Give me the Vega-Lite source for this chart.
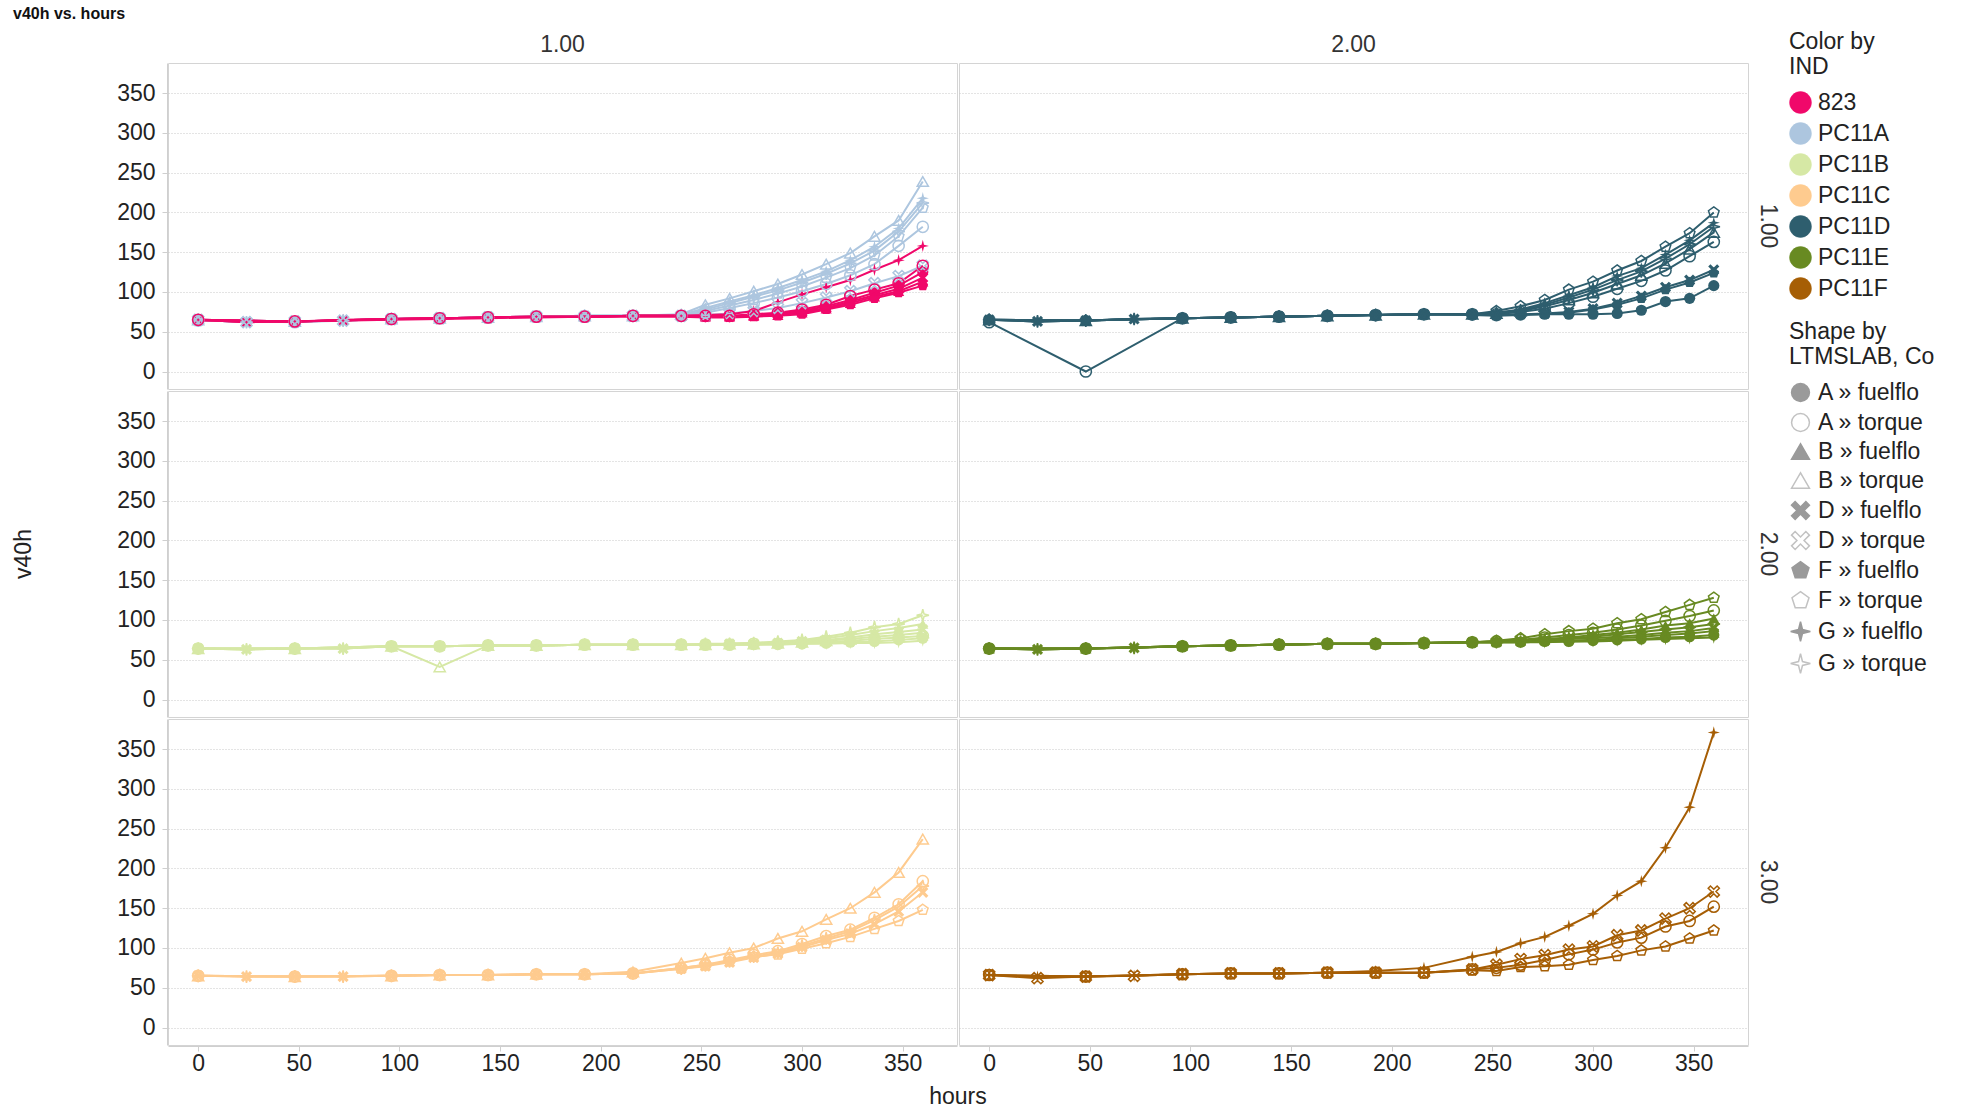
{
"$schema":"https://vega.github.io/schema/vega-lite/v6.json",
"padding":{"left":13,"top":6,"right":5,"bottom":2},
"background":"white",
"title":{"text":"v40h vs. hours","anchor":"start","fontSize":16,"fontWeight":"bold","color":"#111","frame":"bounds","offset":9},
"datasets":{"pan":[{"i":"823","r":"1.00","c":"1.00"},{"i":"PC11A","r":"1.00","c":"1.00"},{"i":"PC11D","r":"1.00","c":"2.00"},{"i":"PC11B","r":"2.00","c":"1.00"},{"i":"PC11E","r":"2.00","c":"2.00"},{"i":"PC11C","r":"3.00","c":"1.00"},{"i":"PC11F","r":"3.00","c":"2.00"}]},
"data":{"values":[
{"i":"PC11A","s":"Bt","h":0,"v":65},{"i":"PC11A","s":"Bt","h":48,"v":63},{"i":"PC11A","s":"Bt","h":96,"v":66},{"i":"PC11A","s":"Bt","h":120,"v":67},{"i":"PC11A","s":"Bt","h":144,"v":68},{"i":"PC11A","s":"Bt","h":168,"v":69},{"i":"PC11A","s":"Bt","h":192,"v":70},{"i":"PC11A","s":"Bt","h":216,"v":70},{"i":"PC11A","s":"Bt","h":240,"v":72},{"i":"PC11A","s":"Bt","h":252,"v":84},{"i":"PC11A","s":"Bt","h":264,"v":92},{"i":"PC11A","s":"Bt","h":276,"v":101},{"i":"PC11A","s":"Bt","h":288,"v":110},{"i":"PC11A","s":"Bt","h":300,"v":122},{"i":"PC11A","s":"Bt","h":312,"v":135},{"i":"PC11A","s":"Bt","h":324,"v":149},{"i":"PC11A","s":"Bt","h":336,"v":170},{"i":"PC11A","s":"Bt","h":348,"v":190},{"i":"PC11A","s":"Bt","h":360,"v":239},
{"i":"PC11A","s":"Gf","h":0,"v":65},{"i":"PC11A","s":"Gf","h":24,"v":62},{"i":"PC11A","s":"Gf","h":48,"v":63},{"i":"PC11A","s":"Gf","h":72,"v":64},{"i":"PC11A","s":"Gf","h":96,"v":66},{"i":"PC11A","s":"Gf","h":120,"v":67},{"i":"PC11A","s":"Gf","h":144,"v":68},{"i":"PC11A","s":"Gf","h":168,"v":69},{"i":"PC11A","s":"Gf","h":192,"v":70},{"i":"PC11A","s":"Gf","h":216,"v":70},{"i":"PC11A","s":"Gf","h":240,"v":71},{"i":"PC11A","s":"Gf","h":252,"v":80},{"i":"PC11A","s":"Gf","h":264,"v":88},{"i":"PC11A","s":"Gf","h":276,"v":96},{"i":"PC11A","s":"Gf","h":288,"v":105},{"i":"PC11A","s":"Gf","h":300,"v":115},{"i":"PC11A","s":"Gf","h":312,"v":126},{"i":"PC11A","s":"Gf","h":324,"v":140},{"i":"PC11A","s":"Gf","h":336,"v":157},{"i":"PC11A","s":"Gf","h":348,"v":180},{"i":"PC11A","s":"Gf","h":360,"v":218},
{"i":"PC11A","s":"Gt","h":0,"v":65},{"i":"PC11A","s":"Gt","h":24,"v":62},{"i":"PC11A","s":"Gt","h":48,"v":63},{"i":"PC11A","s":"Gt","h":72,"v":64},{"i":"PC11A","s":"Gt","h":96,"v":66},{"i":"PC11A","s":"Gt","h":120,"v":67},{"i":"PC11A","s":"Gt","h":144,"v":68},{"i":"PC11A","s":"Gt","h":168,"v":69},{"i":"PC11A","s":"Gt","h":192,"v":70},{"i":"PC11A","s":"Gt","h":216,"v":70},{"i":"PC11A","s":"Gt","h":240,"v":70},{"i":"PC11A","s":"Gt","h":252,"v":78},{"i":"PC11A","s":"Gt","h":264,"v":86},{"i":"PC11A","s":"Gt","h":276,"v":94},{"i":"PC11A","s":"Gt","h":288,"v":102},{"i":"PC11A","s":"Gt","h":300,"v":112},{"i":"PC11A","s":"Gt","h":312,"v":123},{"i":"PC11A","s":"Gt","h":324,"v":136},{"i":"PC11A","s":"Gt","h":336,"v":152},{"i":"PC11A","s":"Gt","h":348,"v":176},{"i":"PC11A","s":"Gt","h":360,"v":212},
{"i":"PC11A","s":"Ft","h":0,"v":65},{"i":"PC11A","s":"Ft","h":48,"v":63},{"i":"PC11A","s":"Ft","h":96,"v":66},{"i":"PC11A","s":"Ft","h":120,"v":67},{"i":"PC11A","s":"Ft","h":144,"v":68},{"i":"PC11A","s":"Ft","h":168,"v":69},{"i":"PC11A","s":"Ft","h":192,"v":70},{"i":"PC11A","s":"Ft","h":216,"v":70},{"i":"PC11A","s":"Ft","h":240,"v":70},{"i":"PC11A","s":"Ft","h":252,"v":76},{"i":"PC11A","s":"Ft","h":264,"v":83},{"i":"PC11A","s":"Ft","h":276,"v":90},{"i":"PC11A","s":"Ft","h":288,"v":98},{"i":"PC11A","s":"Ft","h":300,"v":107},{"i":"PC11A","s":"Ft","h":312,"v":118},{"i":"PC11A","s":"Ft","h":324,"v":130},{"i":"PC11A","s":"Ft","h":336,"v":146},{"i":"PC11A","s":"Ft","h":348,"v":170},{"i":"PC11A","s":"Ft","h":360,"v":206},
{"i":"PC11A","s":"At","h":0,"v":64},{"i":"PC11A","s":"At","h":48,"v":62},{"i":"PC11A","s":"At","h":96,"v":66},{"i":"PC11A","s":"At","h":120,"v":67},{"i":"PC11A","s":"At","h":144,"v":68},{"i":"PC11A","s":"At","h":168,"v":69},{"i":"PC11A","s":"At","h":192,"v":69},{"i":"PC11A","s":"At","h":216,"v":70},{"i":"PC11A","s":"At","h":240,"v":70},{"i":"PC11A","s":"At","h":252,"v":74},{"i":"PC11A","s":"At","h":264,"v":80},{"i":"PC11A","s":"At","h":276,"v":86},{"i":"PC11A","s":"At","h":288,"v":93},{"i":"PC11A","s":"At","h":300,"v":101},{"i":"PC11A","s":"At","h":312,"v":110},{"i":"PC11A","s":"At","h":324,"v":121},{"i":"PC11A","s":"At","h":336,"v":135},{"i":"PC11A","s":"At","h":348,"v":158},{"i":"PC11A","s":"At","h":360,"v":182},
{"i":"PC11A","s":"Dt","h":0,"v":65},{"i":"PC11A","s":"Dt","h":24,"v":62},{"i":"PC11A","s":"Dt","h":48,"v":63},{"i":"PC11A","s":"Dt","h":72,"v":64},{"i":"PC11A","s":"Dt","h":96,"v":66},{"i":"PC11A","s":"Dt","h":120,"v":67},{"i":"PC11A","s":"Dt","h":144,"v":68},{"i":"PC11A","s":"Dt","h":168,"v":69},{"i":"PC11A","s":"Dt","h":192,"v":69},{"i":"PC11A","s":"Dt","h":216,"v":70},{"i":"PC11A","s":"Dt","h":240,"v":70},{"i":"PC11A","s":"Dt","h":252,"v":71},{"i":"PC11A","s":"Dt","h":264,"v":73},{"i":"PC11A","s":"Dt","h":276,"v":76},{"i":"PC11A","s":"Dt","h":288,"v":80},{"i":"PC11A","s":"Dt","h":300,"v":86},{"i":"PC11A","s":"Dt","h":312,"v":93},{"i":"PC11A","s":"Dt","h":324,"v":101},{"i":"PC11A","s":"Dt","h":336,"v":111},{"i":"PC11A","s":"Dt","h":348,"v":120},{"i":"PC11A","s":"Dt","h":360,"v":133},
{"i":"823","s":"Gf","h":0,"v":65},{"i":"823","s":"Gf","h":24,"v":62},{"i":"823","s":"Gf","h":48,"v":63},{"i":"823","s":"Gf","h":72,"v":65},{"i":"823","s":"Gf","h":96,"v":66},{"i":"823","s":"Gf","h":120,"v":67},{"i":"823","s":"Gf","h":144,"v":68},{"i":"823","s":"Gf","h":168,"v":69},{"i":"823","s":"Gf","h":192,"v":69},{"i":"823","s":"Gf","h":216,"v":70},{"i":"823","s":"Gf","h":240,"v":70},{"i":"823","s":"Gf","h":252,"v":71},{"i":"823","s":"Gf","h":264,"v":72},{"i":"823","s":"Gf","h":276,"v":76},{"i":"823","s":"Gf","h":288,"v":87},{"i":"823","s":"Gf","h":300,"v":97},{"i":"823","s":"Gf","h":312,"v":106},{"i":"823","s":"Gf","h":324,"v":115},{"i":"823","s":"Gf","h":336,"v":128},{"i":"823","s":"Gf","h":348,"v":140},{"i":"823","s":"Gf","h":360,"v":158},
{"i":"823","s":"At","h":0,"v":65},{"i":"823","s":"At","h":48,"v":63},{"i":"823","s":"At","h":96,"v":66},{"i":"823","s":"At","h":120,"v":67},{"i":"823","s":"At","h":144,"v":68},{"i":"823","s":"At","h":168,"v":69},{"i":"823","s":"At","h":192,"v":69},{"i":"823","s":"At","h":216,"v":70},{"i":"823","s":"At","h":240,"v":70},{"i":"823","s":"At","h":252,"v":70},{"i":"823","s":"At","h":264,"v":70},{"i":"823","s":"At","h":276,"v":72},{"i":"823","s":"At","h":288,"v":74},{"i":"823","s":"At","h":300,"v":78},{"i":"823","s":"At","h":312,"v":84},{"i":"823","s":"At","h":324,"v":95},{"i":"823","s":"At","h":336,"v":103},{"i":"823","s":"At","h":348,"v":111},{"i":"823","s":"At","h":360,"v":133},
{"i":"823","s":"Af","h":0,"v":65},{"i":"823","s":"Af","h":48,"v":63},{"i":"823","s":"Af","h":96,"v":66},{"i":"823","s":"Af","h":120,"v":67},{"i":"823","s":"Af","h":144,"v":68},{"i":"823","s":"Af","h":168,"v":69},{"i":"823","s":"Af","h":192,"v":69},{"i":"823","s":"Af","h":216,"v":70},{"i":"823","s":"Af","h":240,"v":70},{"i":"823","s":"Af","h":252,"v":69},{"i":"823","s":"Af","h":264,"v":69},{"i":"823","s":"Af","h":276,"v":71},{"i":"823","s":"Af","h":288,"v":73},{"i":"823","s":"Af","h":300,"v":76},{"i":"823","s":"Af","h":312,"v":82},{"i":"823","s":"Af","h":324,"v":90},{"i":"823","s":"Af","h":336,"v":99},{"i":"823","s":"Af","h":348,"v":108},{"i":"823","s":"Af","h":360,"v":125},
{"i":"823","s":"Df","h":0,"v":65},{"i":"823","s":"Df","h":24,"v":62},{"i":"823","s":"Df","h":48,"v":63},{"i":"823","s":"Df","h":72,"v":64},{"i":"823","s":"Df","h":96,"v":66},{"i":"823","s":"Df","h":120,"v":67},{"i":"823","s":"Df","h":144,"v":68},{"i":"823","s":"Df","h":168,"v":69},{"i":"823","s":"Df","h":192,"v":69},{"i":"823","s":"Df","h":216,"v":70},{"i":"823","s":"Df","h":240,"v":70},{"i":"823","s":"Df","h":252,"v":69},{"i":"823","s":"Df","h":264,"v":69},{"i":"823","s":"Df","h":276,"v":70},{"i":"823","s":"Df","h":288,"v":72},{"i":"823","s":"Df","h":300,"v":75},{"i":"823","s":"Df","h":312,"v":80},{"i":"823","s":"Df","h":324,"v":88},{"i":"823","s":"Df","h":336,"v":96},{"i":"823","s":"Df","h":348,"v":104},{"i":"823","s":"Df","h":360,"v":118},
{"i":"823","s":"Bf","h":0,"v":65},{"i":"823","s":"Bf","h":48,"v":63},{"i":"823","s":"Bf","h":96,"v":66},{"i":"823","s":"Bf","h":120,"v":67},{"i":"823","s":"Bf","h":144,"v":68},{"i":"823","s":"Bf","h":168,"v":69},{"i":"823","s":"Bf","h":192,"v":69},{"i":"823","s":"Bf","h":216,"v":70},{"i":"823","s":"Bf","h":240,"v":70},{"i":"823","s":"Bf","h":252,"v":69},{"i":"823","s":"Bf","h":264,"v":69},{"i":"823","s":"Bf","h":276,"v":70},{"i":"823","s":"Bf","h":288,"v":71},{"i":"823","s":"Bf","h":300,"v":74},{"i":"823","s":"Bf","h":312,"v":79},{"i":"823","s":"Bf","h":324,"v":86},{"i":"823","s":"Bf","h":336,"v":94},{"i":"823","s":"Bf","h":348,"v":101},{"i":"823","s":"Bf","h":360,"v":113},
{"i":"823","s":"Ff","h":0,"v":64},{"i":"823","s":"Ff","h":48,"v":63},{"i":"823","s":"Ff","h":96,"v":65},{"i":"823","s":"Ff","h":120,"v":66},{"i":"823","s":"Ff","h":144,"v":67},{"i":"823","s":"Ff","h":168,"v":68},{"i":"823","s":"Ff","h":192,"v":69},{"i":"823","s":"Ff","h":216,"v":69},{"i":"823","s":"Ff","h":240,"v":69},{"i":"823","s":"Ff","h":252,"v":68},{"i":"823","s":"Ff","h":264,"v":68},{"i":"823","s":"Ff","h":276,"v":69},{"i":"823","s":"Ff","h":288,"v":70},{"i":"823","s":"Ff","h":300,"v":72},{"i":"823","s":"Ff","h":312,"v":78},{"i":"823","s":"Ff","h":324,"v":84},{"i":"823","s":"Ff","h":336,"v":92},{"i":"823","s":"Ff","h":348,"v":99},{"i":"823","s":"Ff","h":360,"v":108},
{"i":"PC11D","s":"Ft","h":0,"v":65},{"i":"PC11D","s":"Ft","h":48,"v":64},{"i":"PC11D","s":"Ft","h":96,"v":67},{"i":"PC11D","s":"Ft","h":120,"v":68},{"i":"PC11D","s":"Ft","h":144,"v":69},{"i":"PC11D","s":"Ft","h":168,"v":70},{"i":"PC11D","s":"Ft","h":192,"v":71},{"i":"PC11D","s":"Ft","h":216,"v":72},{"i":"PC11D","s":"Ft","h":240,"v":72},{"i":"PC11D","s":"Ft","h":252,"v":76},{"i":"PC11D","s":"Ft","h":264,"v":82},{"i":"PC11D","s":"Ft","h":276,"v":90},{"i":"PC11D","s":"Ft","h":288,"v":103},{"i":"PC11D","s":"Ft","h":300,"v":113},{"i":"PC11D","s":"Ft","h":312,"v":127},{"i":"PC11D","s":"Ft","h":324,"v":139},{"i":"PC11D","s":"Ft","h":336,"v":157},{"i":"PC11D","s":"Ft","h":348,"v":174},{"i":"PC11D","s":"Ft","h":360,"v":200},
{"i":"PC11D","s":"Gf","h":0,"v":65},{"i":"PC11D","s":"Gf","h":24,"v":63},{"i":"PC11D","s":"Gf","h":48,"v":64},{"i":"PC11D","s":"Gf","h":72,"v":66},{"i":"PC11D","s":"Gf","h":96,"v":67},{"i":"PC11D","s":"Gf","h":120,"v":68},{"i":"PC11D","s":"Gf","h":144,"v":69},{"i":"PC11D","s":"Gf","h":168,"v":70},{"i":"PC11D","s":"Gf","h":192,"v":71},{"i":"PC11D","s":"Gf","h":216,"v":72},{"i":"PC11D","s":"Gf","h":240,"v":72},{"i":"PC11D","s":"Gf","h":252,"v":74},{"i":"PC11D","s":"Gf","h":264,"v":78},{"i":"PC11D","s":"Gf","h":276,"v":86},{"i":"PC11D","s":"Gf","h":288,"v":96},{"i":"PC11D","s":"Gf","h":300,"v":106},{"i":"PC11D","s":"Gf","h":312,"v":120},{"i":"PC11D","s":"Gf","h":324,"v":130},{"i":"PC11D","s":"Gf","h":336,"v":147},{"i":"PC11D","s":"Gf","h":348,"v":165},{"i":"PC11D","s":"Gf","h":360,"v":187},
{"i":"PC11D","s":"Gt","h":0,"v":65},{"i":"PC11D","s":"Gt","h":24,"v":63},{"i":"PC11D","s":"Gt","h":48,"v":64},{"i":"PC11D","s":"Gt","h":72,"v":66},{"i":"PC11D","s":"Gt","h":96,"v":67},{"i":"PC11D","s":"Gt","h":120,"v":68},{"i":"PC11D","s":"Gt","h":144,"v":69},{"i":"PC11D","s":"Gt","h":168,"v":70},{"i":"PC11D","s":"Gt","h":192,"v":71},{"i":"PC11D","s":"Gt","h":216,"v":72},{"i":"PC11D","s":"Gt","h":240,"v":72},{"i":"PC11D","s":"Gt","h":252,"v":74},{"i":"PC11D","s":"Gt","h":264,"v":77},{"i":"PC11D","s":"Gt","h":276,"v":84},{"i":"PC11D","s":"Gt","h":288,"v":93},{"i":"PC11D","s":"Gt","h":300,"v":103},{"i":"PC11D","s":"Gt","h":312,"v":115},{"i":"PC11D","s":"Gt","h":324,"v":126},{"i":"PC11D","s":"Gt","h":336,"v":142},{"i":"PC11D","s":"Gt","h":348,"v":160},{"i":"PC11D","s":"Gt","h":360,"v":182},
{"i":"PC11D","s":"Bt","h":0,"v":65},{"i":"PC11D","s":"Bt","h":48,"v":64},{"i":"PC11D","s":"Bt","h":96,"v":67},{"i":"PC11D","s":"Bt","h":120,"v":68},{"i":"PC11D","s":"Bt","h":144,"v":69},{"i":"PC11D","s":"Bt","h":168,"v":70},{"i":"PC11D","s":"Bt","h":192,"v":71},{"i":"PC11D","s":"Bt","h":216,"v":72},{"i":"PC11D","s":"Bt","h":240,"v":72},{"i":"PC11D","s":"Bt","h":252,"v":73},{"i":"PC11D","s":"Bt","h":264,"v":76},{"i":"PC11D","s":"Bt","h":276,"v":82},{"i":"PC11D","s":"Bt","h":288,"v":90},{"i":"PC11D","s":"Bt","h":300,"v":99},{"i":"PC11D","s":"Bt","h":312,"v":110},{"i":"PC11D","s":"Bt","h":324,"v":121},{"i":"PC11D","s":"Bt","h":336,"v":136},{"i":"PC11D","s":"Bt","h":348,"v":154},{"i":"PC11D","s":"Bt","h":360,"v":175},
{"i":"PC11D","s":"At","h":0,"v":62},{"i":"PC11D","s":"At","h":48,"v":0},{"i":"PC11D","s":"At","h":96,"v":67},{"i":"PC11D","s":"At","h":120,"v":68},{"i":"PC11D","s":"At","h":144,"v":69},{"i":"PC11D","s":"At","h":168,"v":70},{"i":"PC11D","s":"At","h":192,"v":71},{"i":"PC11D","s":"At","h":216,"v":72},{"i":"PC11D","s":"At","h":240,"v":72},{"i":"PC11D","s":"At","h":252,"v":72},{"i":"PC11D","s":"At","h":264,"v":75},{"i":"PC11D","s":"At","h":276,"v":79},{"i":"PC11D","s":"At","h":288,"v":86},{"i":"PC11D","s":"At","h":300,"v":94},{"i":"PC11D","s":"At","h":312,"v":104},{"i":"PC11D","s":"At","h":324,"v":114},{"i":"PC11D","s":"At","h":336,"v":127},{"i":"PC11D","s":"At","h":348,"v":145},{"i":"PC11D","s":"At","h":360,"v":163},
{"i":"PC11D","s":"Df","h":0,"v":65},{"i":"PC11D","s":"Df","h":24,"v":63},{"i":"PC11D","s":"Df","h":48,"v":64},{"i":"PC11D","s":"Df","h":72,"v":66},{"i":"PC11D","s":"Df","h":96,"v":67},{"i":"PC11D","s":"Df","h":120,"v":68},{"i":"PC11D","s":"Df","h":144,"v":69},{"i":"PC11D","s":"Df","h":168,"v":70},{"i":"PC11D","s":"Df","h":192,"v":71},{"i":"PC11D","s":"Df","h":216,"v":72},{"i":"PC11D","s":"Df","h":240,"v":72},{"i":"PC11D","s":"Df","h":252,"v":71},{"i":"PC11D","s":"Df","h":264,"v":72},{"i":"PC11D","s":"Df","h":276,"v":73},{"i":"PC11D","s":"Df","h":288,"v":75},{"i":"PC11D","s":"Df","h":300,"v":79},{"i":"PC11D","s":"Df","h":312,"v":86},{"i":"PC11D","s":"Df","h":324,"v":95},{"i":"PC11D","s":"Df","h":336,"v":106},{"i":"PC11D","s":"Df","h":348,"v":115},{"i":"PC11D","s":"Df","h":360,"v":128},
{"i":"PC11D","s":"Ff","h":0,"v":65},{"i":"PC11D","s":"Ff","h":48,"v":64},{"i":"PC11D","s":"Ff","h":96,"v":67},{"i":"PC11D","s":"Ff","h":120,"v":68},{"i":"PC11D","s":"Ff","h":144,"v":69},{"i":"PC11D","s":"Ff","h":168,"v":70},{"i":"PC11D","s":"Ff","h":192,"v":71},{"i":"PC11D","s":"Ff","h":216,"v":72},{"i":"PC11D","s":"Ff","h":240,"v":72},{"i":"PC11D","s":"Ff","h":252,"v":71},{"i":"PC11D","s":"Ff","h":264,"v":72},{"i":"PC11D","s":"Ff","h":276,"v":72},{"i":"PC11D","s":"Ff","h":288,"v":74},{"i":"PC11D","s":"Ff","h":300,"v":78},{"i":"PC11D","s":"Ff","h":312,"v":84},{"i":"PC11D","s":"Ff","h":324,"v":92},{"i":"PC11D","s":"Ff","h":336,"v":103},{"i":"PC11D","s":"Ff","h":348,"v":112},{"i":"PC11D","s":"Ff","h":360,"v":124},
{"i":"PC11D","s":"Af","h":0,"v":65},{"i":"PC11D","s":"Af","h":48,"v":64},{"i":"PC11D","s":"Af","h":96,"v":67},{"i":"PC11D","s":"Af","h":120,"v":68},{"i":"PC11D","s":"Af","h":144,"v":69},{"i":"PC11D","s":"Af","h":168,"v":70},{"i":"PC11D","s":"Af","h":192,"v":71},{"i":"PC11D","s":"Af","h":216,"v":72},{"i":"PC11D","s":"Af","h":240,"v":71},{"i":"PC11D","s":"Af","h":252,"v":70},{"i":"PC11D","s":"Af","h":264,"v":71},{"i":"PC11D","s":"Af","h":276,"v":72},{"i":"PC11D","s":"Af","h":288,"v":72},{"i":"PC11D","s":"Af","h":300,"v":72},{"i":"PC11D","s":"Af","h":312,"v":73},{"i":"PC11D","s":"Af","h":324,"v":77},{"i":"PC11D","s":"Af","h":336,"v":88},{"i":"PC11D","s":"Af","h":348,"v":92},{"i":"PC11D","s":"Af","h":360,"v":108},
{"i":"PC11B","s":"Gt","h":0,"v":64},{"i":"PC11B","s":"Gt","h":24,"v":63},{"i":"PC11B","s":"Gt","h":48,"v":64},{"i":"PC11B","s":"Gt","h":72,"v":64},{"i":"PC11B","s":"Gt","h":96,"v":67},{"i":"PC11B","s":"Gt","h":120,"v":67},{"i":"PC11B","s":"Gt","h":144,"v":68},{"i":"PC11B","s":"Gt","h":168,"v":68},{"i":"PC11B","s":"Gt","h":192,"v":69},{"i":"PC11B","s":"Gt","h":216,"v":69},{"i":"PC11B","s":"Gt","h":240,"v":69},{"i":"PC11B","s":"Gt","h":252,"v":70},{"i":"PC11B","s":"Gt","h":264,"v":70},{"i":"PC11B","s":"Gt","h":276,"v":71},{"i":"PC11B","s":"Gt","h":288,"v":73},{"i":"PC11B","s":"Gt","h":300,"v":75},{"i":"PC11B","s":"Gt","h":312,"v":79},{"i":"PC11B","s":"Gt","h":324,"v":84},{"i":"PC11B","s":"Gt","h":336,"v":91},{"i":"PC11B","s":"Gt","h":348,"v":95},{"i":"PC11B","s":"Gt","h":360,"v":106},
{"i":"PC11B","s":"Bf","h":0,"v":64},{"i":"PC11B","s":"Bf","h":48,"v":64},{"i":"PC11B","s":"Bf","h":96,"v":67},{"i":"PC11B","s":"Bf","h":120,"v":67},{"i":"PC11B","s":"Bf","h":144,"v":68},{"i":"PC11B","s":"Bf","h":168,"v":68},{"i":"PC11B","s":"Bf","h":192,"v":69},{"i":"PC11B","s":"Bf","h":216,"v":69},{"i":"PC11B","s":"Bf","h":240,"v":69},{"i":"PC11B","s":"Bf","h":252,"v":69},{"i":"PC11B","s":"Bf","h":264,"v":70},{"i":"PC11B","s":"Bf","h":276,"v":71},{"i":"PC11B","s":"Bf","h":288,"v":72},{"i":"PC11B","s":"Bf","h":300,"v":74},{"i":"PC11B","s":"Bf","h":312,"v":77},{"i":"PC11B","s":"Bf","h":324,"v":81},{"i":"PC11B","s":"Bf","h":336,"v":86},{"i":"PC11B","s":"Bf","h":348,"v":90},{"i":"PC11B","s":"Bf","h":360,"v":95},
{"i":"PC11B","s":"Df","h":0,"v":64},{"i":"PC11B","s":"Df","h":24,"v":63},{"i":"PC11B","s":"Df","h":48,"v":64},{"i":"PC11B","s":"Df","h":72,"v":64},{"i":"PC11B","s":"Df","h":96,"v":67},{"i":"PC11B","s":"Df","h":120,"v":67},{"i":"PC11B","s":"Df","h":144,"v":68},{"i":"PC11B","s":"Df","h":168,"v":68},{"i":"PC11B","s":"Df","h":192,"v":69},{"i":"PC11B","s":"Df","h":216,"v":69},{"i":"PC11B","s":"Df","h":240,"v":69},{"i":"PC11B","s":"Df","h":252,"v":69},{"i":"PC11B","s":"Df","h":264,"v":70},{"i":"PC11B","s":"Df","h":276,"v":70},{"i":"PC11B","s":"Df","h":288,"v":71},{"i":"PC11B","s":"Df","h":300,"v":73},{"i":"PC11B","s":"Df","h":312,"v":75},{"i":"PC11B","s":"Df","h":324,"v":78},{"i":"PC11B","s":"Df","h":336,"v":82},{"i":"PC11B","s":"Df","h":348,"v":85},{"i":"PC11B","s":"Df","h":360,"v":88},
{"i":"PC11B","s":"Bt","h":0,"v":64},{"i":"PC11B","s":"Bt","h":48,"v":64},{"i":"PC11B","s":"Bt","h":96,"v":67},{"i":"PC11B","s":"Bt","h":120,"v":41},{"i":"PC11B","s":"Bt","h":144,"v":68},{"i":"PC11B","s":"Bt","h":168,"v":68},{"i":"PC11B","s":"Bt","h":192,"v":69},{"i":"PC11B","s":"Bt","h":216,"v":69},{"i":"PC11B","s":"Bt","h":240,"v":69},{"i":"PC11B","s":"Bt","h":252,"v":69},{"i":"PC11B","s":"Bt","h":264,"v":70},{"i":"PC11B","s":"Bt","h":276,"v":70},{"i":"PC11B","s":"Bt","h":288,"v":71},{"i":"PC11B","s":"Bt","h":300,"v":72},{"i":"PC11B","s":"Bt","h":312,"v":74},{"i":"PC11B","s":"Bt","h":324,"v":76},{"i":"PC11B","s":"Bt","h":336,"v":79},{"i":"PC11B","s":"Bt","h":348,"v":81},{"i":"PC11B","s":"Bt","h":360,"v":84},
{"i":"PC11B","s":"At","h":0,"v":64},{"i":"PC11B","s":"At","h":48,"v":64},{"i":"PC11B","s":"At","h":96,"v":67},{"i":"PC11B","s":"At","h":120,"v":67},{"i":"PC11B","s":"At","h":144,"v":68},{"i":"PC11B","s":"At","h":168,"v":68},{"i":"PC11B","s":"At","h":192,"v":69},{"i":"PC11B","s":"At","h":216,"v":69},{"i":"PC11B","s":"At","h":240,"v":69},{"i":"PC11B","s":"At","h":252,"v":69},{"i":"PC11B","s":"At","h":264,"v":69},{"i":"PC11B","s":"At","h":276,"v":70},{"i":"PC11B","s":"At","h":288,"v":70},{"i":"PC11B","s":"At","h":300,"v":71},{"i":"PC11B","s":"At","h":312,"v":72},{"i":"PC11B","s":"At","h":324,"v":74},{"i":"PC11B","s":"At","h":336,"v":76},{"i":"PC11B","s":"At","h":348,"v":78},{"i":"PC11B","s":"At","h":360,"v":80},
{"i":"PC11B","s":"Af","h":0,"v":64},{"i":"PC11B","s":"Af","h":48,"v":64},{"i":"PC11B","s":"Af","h":96,"v":67},{"i":"PC11B","s":"Af","h":120,"v":67},{"i":"PC11B","s":"Af","h":144,"v":68},{"i":"PC11B","s":"Af","h":168,"v":68},{"i":"PC11B","s":"Af","h":192,"v":69},{"i":"PC11B","s":"Af","h":216,"v":69},{"i":"PC11B","s":"Af","h":240,"v":69},{"i":"PC11B","s":"Af","h":252,"v":69},{"i":"PC11B","s":"Af","h":264,"v":69},{"i":"PC11B","s":"Af","h":276,"v":69},{"i":"PC11B","s":"Af","h":288,"v":70},{"i":"PC11B","s":"Af","h":300,"v":70},{"i":"PC11B","s":"Af","h":312,"v":71},{"i":"PC11B","s":"Af","h":324,"v":72},{"i":"PC11B","s":"Af","h":336,"v":73},{"i":"PC11B","s":"Af","h":348,"v":75},{"i":"PC11B","s":"Af","h":360,"v":77},
{"i":"PC11B","s":"Gf","h":0,"v":64},{"i":"PC11B","s":"Gf","h":24,"v":63},{"i":"PC11B","s":"Gf","h":48,"v":64},{"i":"PC11B","s":"Gf","h":72,"v":64},{"i":"PC11B","s":"Gf","h":96,"v":67},{"i":"PC11B","s":"Gf","h":120,"v":67},{"i":"PC11B","s":"Gf","h":144,"v":68},{"i":"PC11B","s":"Gf","h":168,"v":68},{"i":"PC11B","s":"Gf","h":192,"v":69},{"i":"PC11B","s":"Gf","h":216,"v":69},{"i":"PC11B","s":"Gf","h":240,"v":69},{"i":"PC11B","s":"Gf","h":252,"v":69},{"i":"PC11B","s":"Gf","h":264,"v":69},{"i":"PC11B","s":"Gf","h":276,"v":69},{"i":"PC11B","s":"Gf","h":288,"v":69},{"i":"PC11B","s":"Gf","h":300,"v":70},{"i":"PC11B","s":"Gf","h":312,"v":70},{"i":"PC11B","s":"Gf","h":324,"v":71},{"i":"PC11B","s":"Gf","h":336,"v":71},{"i":"PC11B","s":"Gf","h":348,"v":72},{"i":"PC11B","s":"Gf","h":360,"v":74},
{"i":"PC11E","s":"Ft","h":0,"v":64},{"i":"PC11E","s":"Ft","h":48,"v":64},{"i":"PC11E","s":"Ft","h":96,"v":67},{"i":"PC11E","s":"Ft","h":120,"v":68},{"i":"PC11E","s":"Ft","h":144,"v":69},{"i":"PC11E","s":"Ft","h":168,"v":70},{"i":"PC11E","s":"Ft","h":192,"v":70},{"i":"PC11E","s":"Ft","h":216,"v":71},{"i":"PC11E","s":"Ft","h":240,"v":72},{"i":"PC11E","s":"Ft","h":252,"v":74},{"i":"PC11E","s":"Ft","h":264,"v":77},{"i":"PC11E","s":"Ft","h":276,"v":82},{"i":"PC11E","s":"Ft","h":288,"v":86},{"i":"PC11E","s":"Ft","h":300,"v":89},{"i":"PC11E","s":"Ft","h":312,"v":96},{"i":"PC11E","s":"Ft","h":324,"v":101},{"i":"PC11E","s":"Ft","h":336,"v":110},{"i":"PC11E","s":"Ft","h":348,"v":119},{"i":"PC11E","s":"Ft","h":360,"v":128},
{"i":"PC11E","s":"At","h":0,"v":64},{"i":"PC11E","s":"At","h":48,"v":64},{"i":"PC11E","s":"At","h":96,"v":67},{"i":"PC11E","s":"At","h":120,"v":68},{"i":"PC11E","s":"At","h":144,"v":69},{"i":"PC11E","s":"At","h":168,"v":70},{"i":"PC11E","s":"At","h":192,"v":70},{"i":"PC11E","s":"At","h":216,"v":71},{"i":"PC11E","s":"At","h":240,"v":72},{"i":"PC11E","s":"At","h":252,"v":73},{"i":"PC11E","s":"At","h":264,"v":75},{"i":"PC11E","s":"At","h":276,"v":78},{"i":"PC11E","s":"At","h":288,"v":81},{"i":"PC11E","s":"At","h":300,"v":84},{"i":"PC11E","s":"At","h":312,"v":88},{"i":"PC11E","s":"At","h":324,"v":93},{"i":"PC11E","s":"At","h":336,"v":99},{"i":"PC11E","s":"At","h":348,"v":105},{"i":"PC11E","s":"At","h":360,"v":112},
{"i":"PC11E","s":"Bf","h":0,"v":64},{"i":"PC11E","s":"Bf","h":48,"v":64},{"i":"PC11E","s":"Bf","h":96,"v":67},{"i":"PC11E","s":"Bf","h":120,"v":68},{"i":"PC11E","s":"Bf","h":144,"v":69},{"i":"PC11E","s":"Bf","h":168,"v":70},{"i":"PC11E","s":"Bf","h":192,"v":70},{"i":"PC11E","s":"Bf","h":216,"v":71},{"i":"PC11E","s":"Bf","h":240,"v":72},{"i":"PC11E","s":"Bf","h":252,"v":73},{"i":"PC11E","s":"Bf","h":264,"v":74},{"i":"PC11E","s":"Bf","h":276,"v":76},{"i":"PC11E","s":"Bf","h":288,"v":78},{"i":"PC11E","s":"Bf","h":300,"v":81},{"i":"PC11E","s":"Bf","h":312,"v":84},{"i":"PC11E","s":"Bf","h":324,"v":88},{"i":"PC11E","s":"Bf","h":336,"v":93},{"i":"PC11E","s":"Bf","h":348,"v":96},{"i":"PC11E","s":"Bf","h":360,"v":102},
{"i":"PC11E","s":"Gt","h":0,"v":64},{"i":"PC11E","s":"Gt","h":24,"v":63},{"i":"PC11E","s":"Gt","h":48,"v":64},{"i":"PC11E","s":"Gt","h":72,"v":65},{"i":"PC11E","s":"Gt","h":96,"v":67},{"i":"PC11E","s":"Gt","h":120,"v":68},{"i":"PC11E","s":"Gt","h":144,"v":69},{"i":"PC11E","s":"Gt","h":168,"v":70},{"i":"PC11E","s":"Gt","h":192,"v":70},{"i":"PC11E","s":"Gt","h":216,"v":71},{"i":"PC11E","s":"Gt","h":240,"v":72},{"i":"PC11E","s":"Gt","h":252,"v":72},{"i":"PC11E","s":"Gt","h":264,"v":73},{"i":"PC11E","s":"Gt","h":276,"v":75},{"i":"PC11E","s":"Gt","h":288,"v":77},{"i":"PC11E","s":"Gt","h":300,"v":79},{"i":"PC11E","s":"Gt","h":312,"v":82},{"i":"PC11E","s":"Gt","h":324,"v":85},{"i":"PC11E","s":"Gt","h":336,"v":88},{"i":"PC11E","s":"Gt","h":348,"v":91},{"i":"PC11E","s":"Gt","h":360,"v":95},
{"i":"PC11E","s":"Df","h":0,"v":64},{"i":"PC11E","s":"Df","h":24,"v":63},{"i":"PC11E","s":"Df","h":48,"v":64},{"i":"PC11E","s":"Df","h":72,"v":65},{"i":"PC11E","s":"Df","h":96,"v":67},{"i":"PC11E","s":"Df","h":120,"v":68},{"i":"PC11E","s":"Df","h":144,"v":69},{"i":"PC11E","s":"Df","h":168,"v":70},{"i":"PC11E","s":"Df","h":192,"v":70},{"i":"PC11E","s":"Df","h":216,"v":71},{"i":"PC11E","s":"Df","h":240,"v":72},{"i":"PC11E","s":"Df","h":252,"v":72},{"i":"PC11E","s":"Df","h":264,"v":73},{"i":"PC11E","s":"Df","h":276,"v":74},{"i":"PC11E","s":"Df","h":288,"v":76},{"i":"PC11E","s":"Df","h":300,"v":77},{"i":"PC11E","s":"Df","h":312,"v":79},{"i":"PC11E","s":"Df","h":324,"v":81},{"i":"PC11E","s":"Df","h":336,"v":84},{"i":"PC11E","s":"Df","h":348,"v":86},{"i":"PC11E","s":"Df","h":360,"v":90},
{"i":"PC11E","s":"Ff","h":0,"v":64},{"i":"PC11E","s":"Ff","h":48,"v":64},{"i":"PC11E","s":"Ff","h":96,"v":67},{"i":"PC11E","s":"Ff","h":120,"v":68},{"i":"PC11E","s":"Ff","h":144,"v":69},{"i":"PC11E","s":"Ff","h":168,"v":70},{"i":"PC11E","s":"Ff","h":192,"v":70},{"i":"PC11E","s":"Ff","h":216,"v":71},{"i":"PC11E","s":"Ff","h":240,"v":72},{"i":"PC11E","s":"Ff","h":252,"v":72},{"i":"PC11E","s":"Ff","h":264,"v":72},{"i":"PC11E","s":"Ff","h":276,"v":73},{"i":"PC11E","s":"Ff","h":288,"v":74},{"i":"PC11E","s":"Ff","h":300,"v":75},{"i":"PC11E","s":"Ff","h":312,"v":77},{"i":"PC11E","s":"Ff","h":324,"v":79},{"i":"PC11E","s":"Ff","h":336,"v":81},{"i":"PC11E","s":"Ff","h":348,"v":83},{"i":"PC11E","s":"Ff","h":360,"v":86},
{"i":"PC11E","s":"Af","h":0,"v":64},{"i":"PC11E","s":"Af","h":48,"v":64},{"i":"PC11E","s":"Af","h":96,"v":67},{"i":"PC11E","s":"Af","h":120,"v":68},{"i":"PC11E","s":"Af","h":144,"v":69},{"i":"PC11E","s":"Af","h":168,"v":70},{"i":"PC11E","s":"Af","h":192,"v":70},{"i":"PC11E","s":"Af","h":216,"v":71},{"i":"PC11E","s":"Af","h":240,"v":72},{"i":"PC11E","s":"Af","h":252,"v":72},{"i":"PC11E","s":"Af","h":264,"v":72},{"i":"PC11E","s":"Af","h":276,"v":73},{"i":"PC11E","s":"Af","h":288,"v":73},{"i":"PC11E","s":"Af","h":300,"v":74},{"i":"PC11E","s":"Af","h":312,"v":75},{"i":"PC11E","s":"Af","h":324,"v":76},{"i":"PC11E","s":"Af","h":336,"v":78},{"i":"PC11E","s":"Af","h":348,"v":79},{"i":"PC11E","s":"Af","h":360,"v":81},
{"i":"PC11E","s":"Gf","h":0,"v":64},{"i":"PC11E","s":"Gf","h":24,"v":63},{"i":"PC11E","s":"Gf","h":48,"v":64},{"i":"PC11E","s":"Gf","h":72,"v":65},{"i":"PC11E","s":"Gf","h":96,"v":67},{"i":"PC11E","s":"Gf","h":120,"v":68},{"i":"PC11E","s":"Gf","h":144,"v":69},{"i":"PC11E","s":"Gf","h":168,"v":70},{"i":"PC11E","s":"Gf","h":192,"v":70},{"i":"PC11E","s":"Gf","h":216,"v":71},{"i":"PC11E","s":"Gf","h":240,"v":72},{"i":"PC11E","s":"Gf","h":252,"v":72},{"i":"PC11E","s":"Gf","h":264,"v":72},{"i":"PC11E","s":"Gf","h":276,"v":72},{"i":"PC11E","s":"Gf","h":288,"v":73},{"i":"PC11E","s":"Gf","h":300,"v":73},{"i":"PC11E","s":"Gf","h":312,"v":74},{"i":"PC11E","s":"Gf","h":324,"v":75},{"i":"PC11E","s":"Gf","h":336,"v":76},{"i":"PC11E","s":"Gf","h":348,"v":77},{"i":"PC11E","s":"Gf","h":360,"v":78},
{"i":"PC11C","s":"Bt","h":0,"v":65},{"i":"PC11C","s":"Bt","h":48,"v":64},{"i":"PC11C","s":"Bt","h":96,"v":65},{"i":"PC11C","s":"Bt","h":120,"v":66},{"i":"PC11C","s":"Bt","h":144,"v":66},{"i":"PC11C","s":"Bt","h":168,"v":67},{"i":"PC11C","s":"Bt","h":192,"v":67},{"i":"PC11C","s":"Bt","h":216,"v":70},{"i":"PC11C","s":"Bt","h":240,"v":81},{"i":"PC11C","s":"Bt","h":252,"v":87},{"i":"PC11C","s":"Bt","h":264,"v":94},{"i":"PC11C","s":"Bt","h":276,"v":100},{"i":"PC11C","s":"Bt","h":288,"v":112},{"i":"PC11C","s":"Bt","h":300,"v":121},{"i":"PC11C","s":"Bt","h":312,"v":136},{"i":"PC11C","s":"Bt","h":324,"v":150},{"i":"PC11C","s":"Bt","h":336,"v":170},{"i":"PC11C","s":"Bt","h":348,"v":195},{"i":"PC11C","s":"Bt","h":360,"v":237},
{"i":"PC11C","s":"At","h":0,"v":65},{"i":"PC11C","s":"At","h":48,"v":64},{"i":"PC11C","s":"At","h":96,"v":65},{"i":"PC11C","s":"At","h":120,"v":66},{"i":"PC11C","s":"At","h":144,"v":66},{"i":"PC11C","s":"At","h":168,"v":67},{"i":"PC11C","s":"At","h":192,"v":67},{"i":"PC11C","s":"At","h":216,"v":68},{"i":"PC11C","s":"At","h":240,"v":75},{"i":"PC11C","s":"At","h":252,"v":79},{"i":"PC11C","s":"At","h":264,"v":85},{"i":"PC11C","s":"At","h":276,"v":91},{"i":"PC11C","s":"At","h":288,"v":96},{"i":"PC11C","s":"At","h":300,"v":105},{"i":"PC11C","s":"At","h":312,"v":115},{"i":"PC11C","s":"At","h":324,"v":123},{"i":"PC11C","s":"At","h":336,"v":138},{"i":"PC11C","s":"At","h":348,"v":155},{"i":"PC11C","s":"At","h":360,"v":184},
{"i":"PC11C","s":"Gt","h":0,"v":65},{"i":"PC11C","s":"Gt","h":24,"v":64},{"i":"PC11C","s":"Gt","h":48,"v":64},{"i":"PC11C","s":"Gt","h":72,"v":64},{"i":"PC11C","s":"Gt","h":96,"v":65},{"i":"PC11C","s":"Gt","h":120,"v":66},{"i":"PC11C","s":"Gt","h":144,"v":66},{"i":"PC11C","s":"Gt","h":168,"v":67},{"i":"PC11C","s":"Gt","h":192,"v":67},{"i":"PC11C","s":"Gt","h":216,"v":68},{"i":"PC11C","s":"Gt","h":240,"v":74},{"i":"PC11C","s":"Gt","h":252,"v":78},{"i":"PC11C","s":"Gt","h":264,"v":83},{"i":"PC11C","s":"Gt","h":276,"v":89},{"i":"PC11C","s":"Gt","h":288,"v":94},{"i":"PC11C","s":"Gt","h":300,"v":103},{"i":"PC11C","s":"Gt","h":312,"v":112},{"i":"PC11C","s":"Gt","h":324,"v":121},{"i":"PC11C","s":"Gt","h":336,"v":135},{"i":"PC11C","s":"Gt","h":348,"v":152},{"i":"PC11C","s":"Gt","h":360,"v":178},
{"i":"PC11C","s":"Ft","h":0,"v":65},{"i":"PC11C","s":"Ft","h":48,"v":64},{"i":"PC11C","s":"Ft","h":96,"v":65},{"i":"PC11C","s":"Ft","h":120,"v":66},{"i":"PC11C","s":"Ft","h":144,"v":66},{"i":"PC11C","s":"Ft","h":168,"v":67},{"i":"PC11C","s":"Ft","h":192,"v":67},{"i":"PC11C","s":"Ft","h":216,"v":68},{"i":"PC11C","s":"Ft","h":240,"v":75},{"i":"PC11C","s":"Ft","h":252,"v":79},{"i":"PC11C","s":"Ft","h":264,"v":83},{"i":"PC11C","s":"Ft","h":276,"v":89},{"i":"PC11C","s":"Ft","h":288,"v":92},{"i":"PC11C","s":"Ft","h":300,"v":99},{"i":"PC11C","s":"Ft","h":312,"v":106},{"i":"PC11C","s":"Ft","h":324,"v":114},{"i":"PC11C","s":"Ft","h":336,"v":124},{"i":"PC11C","s":"Ft","h":348,"v":134},{"i":"PC11C","s":"Ft","h":360,"v":148},
{"i":"PC11C","s":"Df","h":0,"v":65},{"i":"PC11C","s":"Df","h":24,"v":64},{"i":"PC11C","s":"Df","h":48,"v":64},{"i":"PC11C","s":"Df","h":72,"v":64},{"i":"PC11C","s":"Df","h":96,"v":65},{"i":"PC11C","s":"Df","h":120,"v":66},{"i":"PC11C","s":"Df","h":144,"v":66},{"i":"PC11C","s":"Df","h":168,"v":67},{"i":"PC11C","s":"Df","h":192,"v":67},{"i":"PC11C","s":"Df","h":216,"v":68},{"i":"PC11C","s":"Df","h":240,"v":74},{"i":"PC11C","s":"Df","h":252,"v":77},{"i":"PC11C","s":"Df","h":264,"v":82},{"i":"PC11C","s":"Df","h":276,"v":88},{"i":"PC11C","s":"Df","h":288,"v":93},{"i":"PC11C","s":"Df","h":300,"v":101},{"i":"PC11C","s":"Df","h":312,"v":110},{"i":"PC11C","s":"Df","h":324,"v":118},{"i":"PC11C","s":"Df","h":336,"v":130},{"i":"PC11C","s":"Df","h":348,"v":146},{"i":"PC11C","s":"Df","h":360,"v":170},
{"i":"PC11F","s":"Gf","h":0,"v":66},{"i":"PC11F","s":"Gf","h":24,"v":64},{"i":"PC11F","s":"Gf","h":48,"v":64},{"i":"PC11F","s":"Gf","h":72,"v":65},{"i":"PC11F","s":"Gf","h":96,"v":67},{"i":"PC11F","s":"Gf","h":120,"v":68},{"i":"PC11F","s":"Gf","h":144,"v":68},{"i":"PC11F","s":"Gf","h":168,"v":69},{"i":"PC11F","s":"Gf","h":192,"v":71},{"i":"PC11F","s":"Gf","h":216,"v":75},{"i":"PC11F","s":"Gf","h":240,"v":89},{"i":"PC11F","s":"Gf","h":252,"v":95},{"i":"PC11F","s":"Gf","h":264,"v":106},{"i":"PC11F","s":"Gf","h":276,"v":114},{"i":"PC11F","s":"Gf","h":288,"v":128},{"i":"PC11F","s":"Gf","h":300,"v":143},{"i":"PC11F","s":"Gf","h":312,"v":166},{"i":"PC11F","s":"Gf","h":324,"v":184},{"i":"PC11F","s":"Gf","h":336,"v":226},{"i":"PC11F","s":"Gf","h":348,"v":277},{"i":"PC11F","s":"Gf","h":360,"v":371},
{"i":"PC11F","s":"Dt","h":0,"v":66},{"i":"PC11F","s":"Dt","h":24,"v":62},{"i":"PC11F","s":"Dt","h":48,"v":64},{"i":"PC11F","s":"Dt","h":72,"v":65},{"i":"PC11F","s":"Dt","h":96,"v":67},{"i":"PC11F","s":"Dt","h":120,"v":68},{"i":"PC11F","s":"Dt","h":144,"v":68},{"i":"PC11F","s":"Dt","h":168,"v":69},{"i":"PC11F","s":"Dt","h":192,"v":69},{"i":"PC11F","s":"Dt","h":216,"v":69},{"i":"PC11F","s":"Dt","h":240,"v":73},{"i":"PC11F","s":"Dt","h":252,"v":79},{"i":"PC11F","s":"Dt","h":264,"v":86},{"i":"PC11F","s":"Dt","h":276,"v":91},{"i":"PC11F","s":"Dt","h":288,"v":98},{"i":"PC11F","s":"Dt","h":300,"v":102},{"i":"PC11F","s":"Dt","h":312,"v":116},{"i":"PC11F","s":"Dt","h":324,"v":122},{"i":"PC11F","s":"Dt","h":336,"v":137},{"i":"PC11F","s":"Dt","h":348,"v":150},{"i":"PC11F","s":"Dt","h":360,"v":171},
{"i":"PC11F","s":"At","h":0,"v":66},{"i":"PC11F","s":"At","h":48,"v":64},{"i":"PC11F","s":"At","h":96,"v":67},{"i":"PC11F","s":"At","h":120,"v":68},{"i":"PC11F","s":"At","h":144,"v":68},{"i":"PC11F","s":"At","h":168,"v":69},{"i":"PC11F","s":"At","h":192,"v":69},{"i":"PC11F","s":"At","h":216,"v":69},{"i":"PC11F","s":"At","h":240,"v":73},{"i":"PC11F","s":"At","h":252,"v":75},{"i":"PC11F","s":"At","h":264,"v":79},{"i":"PC11F","s":"At","h":276,"v":85},{"i":"PC11F","s":"At","h":288,"v":92},{"i":"PC11F","s":"At","h":300,"v":98},{"i":"PC11F","s":"At","h":312,"v":107},{"i":"PC11F","s":"At","h":324,"v":113},{"i":"PC11F","s":"At","h":336,"v":127},{"i":"PC11F","s":"At","h":348,"v":134},{"i":"PC11F","s":"At","h":360,"v":152},
{"i":"PC11F","s":"Ft","h":0,"v":66},{"i":"PC11F","s":"Ft","h":48,"v":64},{"i":"PC11F","s":"Ft","h":96,"v":67},{"i":"PC11F","s":"Ft","h":120,"v":68},{"i":"PC11F","s":"Ft","h":144,"v":68},{"i":"PC11F","s":"Ft","h":168,"v":69},{"i":"PC11F","s":"Ft","h":192,"v":69},{"i":"PC11F","s":"Ft","h":216,"v":69},{"i":"PC11F","s":"Ft","h":240,"v":72},{"i":"PC11F","s":"Ft","h":252,"v":71},{"i":"PC11F","s":"Ft","h":264,"v":76},{"i":"PC11F","s":"Ft","h":276,"v":77},{"i":"PC11F","s":"Ft","h":288,"v":79},{"i":"PC11F","s":"Ft","h":300,"v":85},{"i":"PC11F","s":"Ft","h":312,"v":90},{"i":"PC11F","s":"Ft","h":324,"v":97},{"i":"PC11F","s":"Ft","h":336,"v":102},{"i":"PC11F","s":"Ft","h":348,"v":112},{"i":"PC11F","s":"Ft","h":360,"v":122}
]},
"transform":[{"lookup":"i","from":{"data":{"name":"pan"},"key":"i","fields":["r","c"]}}],
"facet":{
 "row":{"field":"r","type":"ordinal","title":"v40h","header":{"labelAngle":90,"labelOrient":"right","labelFontSize":23,"labelColor":"#333","labelPadding":7,"titleOrient":"left","titleFontSize":23,"titleFontWeight":"normal","titleColor":"#222","titlePadding":70}},
 "column":{"field":"c","type":"ordinal","title":"hours","header":{"labelFontSize":23,"labelColor":"#333","labelPadding":5,"titleOrient":"bottom","titleFontSize":23,"titleFontWeight":"normal","titleColor":"#222","titlePadding":1}}
},
"spacing":{"row":0,"column":0},
"spec":{
 "width":789,"height":326,
 "encoding":{
  "x":{"field":"h","type":"quantitative","title":null,"scale":{"domain":[-15,377],"nice":false,"zero":false},"axis":{"values":[0,50,100,150,200,250,300,350],"grid":false,"labelPadding":1}},
  "y":{"field":"v","type":"quantitative","title":null,"scale":{"domain":[-22,388],"nice":false,"zero":false},"axis":{"values":[0,50,100,150,200,250,300,350],"labelPadding":7,"minExtent":50}}
 },
 "layer":[
  {"mark":{"type":"line","strokeWidth":2},"encoding":{
    "color":{"field":"i","type":"nominal","scale":{"domain":["823","PC11A","PC11B","PC11C","PC11D","PC11E","PC11F"],"range":["#F0086A","#ADC6DF","#D6E8A5","#FECB8F","#2E5E6E","#688A22","#A65E05"]}},
    "detail":{"field":"s","type":"nominal"},"order":{"field":"h","type":"quantitative"}}},
  {"transform":[{"filter":"substring(datum.s,1,2)=='f'"}],
   "mark":{"type":"point","filled":true,"opacity":1,"size":125},
   "encoding":{
    "color":{"field":"i","type":"nominal",
     "legend":{"title":["Color by","IND"],"orient":"none","legendX":1621,"legendY":-32,"titlePadding":12,"symbolType":"circle","symbolSize":480,"symbolOpacity":1,"symbolStrokeColor":"#b0b0b0","symbolStrokeWidth":0.5,"rowPadding":6,"labelOffset":6,"encode":{"symbols":{"update":{"fill":{"scale":"color","field":"value"},"opacity":{"value":1}}}}}},
    "shape":{"field":"s","type":"nominal","scale":{"domain":["Af","At","Bf","Bt","Df","Dt","Ff","Ft","Gf","Gt"],"range":["circle","circle","triangle-up","triangle-up","M-1,-0.6L-0.6,-1L0,-0.4L0.6,-1L1,-0.6L0.4,0L1,0.6L0.6,1L0,0.4L-0.6,1L-1,0.6L-0.4,0Z","M-1,-0.6L-0.6,-1L0,-0.4L0.6,-1L1,-0.6L0.4,0L1,0.6L0.6,1L0,0.4L-0.6,1L-1,0.6L-0.4,0Z","M0,-1L0.95,-0.31L0.59,0.81L-0.59,0.81L-0.95,-0.31Z","M0,-1L0.95,-0.31L0.59,0.81L-0.59,0.81L-0.95,-0.31Z","M0,-1.1L0.22,-0.22L1.1,0L0.22,0.22L0,1.1L-0.22,0.22L-1.1,0L-0.22,-0.22Z","M0,-1.1L0.22,-0.22L1.1,0L0.22,0.22L0,1.1L-0.22,0.22L-1.1,0L-0.22,-0.22Z"]}}
   }},
  {"transform":[{"filter":"substring(datum.s,1,2)=='t'"}],
   "mark":{"type":"point","filled":false,"opacity":1,"size":125,"strokeWidth":1.5},
   "encoding":{
    "color":{"field":"i","type":"nominal"},
    "shape":{"field":"s","type":"nominal"}
   }},
  {"transform":[{"filter":"false"}],
   "mark":{"type":"point","filled":true,"opacity":1,"size":140,"strokeWidth":1},
   "encoding":{
    "shape":{"field":"s","type":"nominal",
     "legend":{"title":["Shape by","LTMSLAB, Co"],"orient":"none","legendX":1621,"legendY":258,"titlePadding":12,"symbolSize":320,"symbolOpacity":1,"symbolFillColor":"#9a9a9a","rowPadding":5,"labelOffset":6,"labelExpr":"substring(datum.value,0,1)+' » '+(substring(datum.value,1,2)=='f'?'fuelflo':'torque')"}},
    "fill":{"field":"s","type":"nominal","scale":{"domain":["Af","At","Bf","Bt","Df","Dt","Ff","Ft","Gf","Gt"],"range":["#9a9a9a","#ffffff","#9a9a9a","#ffffff","#9a9a9a","#ffffff","#9a9a9a","#ffffff","#9a9a9a","#ffffff"]},
     "legend":{"title":["Shape by","LTMSLAB, Co"],"orient":"none","legendX":1621,"legendY":258,"titlePadding":12,"symbolSize":320,"symbolOpacity":1,"rowPadding":5,"labelOffset":6,"labelExpr":"substring(datum.value,0,1)+' » '+(substring(datum.value,1,2)=='f'?'fuelflo':'torque')"}},
    "stroke":{"field":"s","type":"nominal","scale":{"domain":["Af","At","Bf","Bt","Df","Dt","Ff","Ft","Gf","Gt"],"range":["#9a9a9a","#c2c2c2","#9a9a9a","#c2c2c2","#9a9a9a","#c2c2c2","#9a9a9a","#c2c2c2","#9a9a9a","#c2c2c2"]},
     "legend":{"title":["Shape by","LTMSLAB, Co"],"orient":"none","legendX":1621,"legendY":258,"titlePadding":12,"symbolSize":320,"symbolOpacity":1,"rowPadding":5,"labelOffset":6,"labelExpr":"substring(datum.value,0,1)+' » '+(substring(datum.value,1,2)=='f'?'fuelflo':'torque')"}}
   }}
 ]
},
"config":{
 "font":"Liberation Sans",
 "view":{"stroke":"#d4d4d4","strokeWidth":1},
 "axis":{"labelFontSize":23,"labelColor":"#222","domainColor":"#cfcfcf","tickColor":"#cfcfcf","tickSize":5,"gridColor":"#c8c8c8","gridDash":[1,2],"labelPadding":4},
 "legend":{"labelFontSize":23,"titleFontSize":23,"titleFontWeight":"normal","labelColor":"#222","titleColor":"#222","titleLimit":300,"labelLimit":300}
}
}
